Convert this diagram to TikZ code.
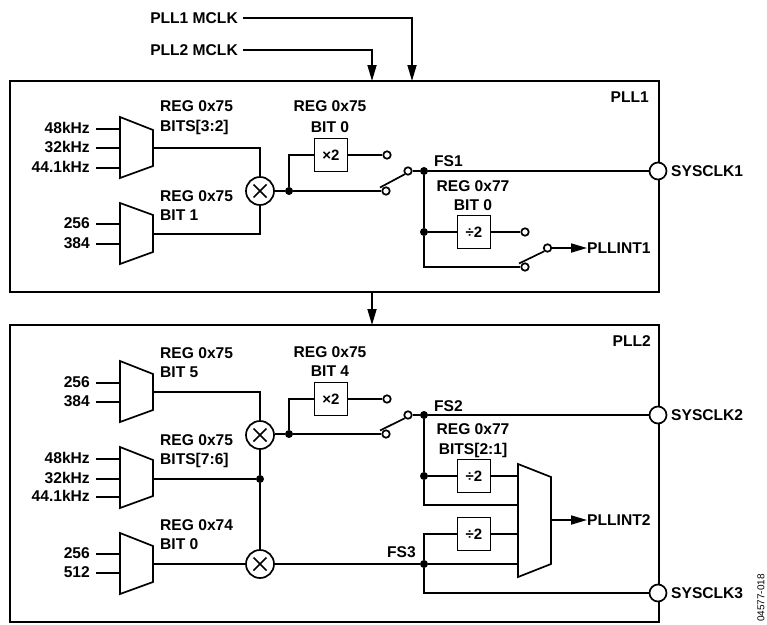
\documentclass[tikz,border=0pt]{standalone}
\usepackage{fontspec}
\setmainfont{Liberation Sans}
\usetikzlibrary{arrows.meta}
\tikzset{
  x=1pt,y=-1pt,
  wire/.style={line width=1.7pt,line join=miter},
  flow/.style={wire,-{Triangle[length=16pt,width=9pt]}},
  block/.style={draw,line width=2pt},
  muxshape/.style={draw,line width=1.7pt,fill=white,line join=miter},
  divbox/.style={draw,line width=1.7pt,fill=white,minimum width=33pt,minimum height=33pt,inner sep=0pt,font=\fontsize{15}{16}\bfseries},
  txt/.style={inner sep=0pt,font=\fontsize{15.6}{18}\bfseries,text height=11.2pt,text depth=0pt},
  inlab/.style={txt,anchor=east,text depth=2pt},
  mixer/.style={draw,circle,line width=1.7pt,fill=white,minimum size=28pt,inner sep=0pt},
  pad/.style={draw,circle,line width=1.7pt,fill=white,minimum size=17pt,inner sep=0pt},
  term/.style={draw,circle,line width=1.7pt,fill=white,minimum size=7.5pt,inner sep=0pt},
  junction/.style={circle,fill=black,minimum size=8pt,inner sep=0pt},
}
\newcommand{\muxdraw}[6]{%
  \draw[muxshape] (#1,#3) -- (#2,#5) -- (#2,#6) -- (#1,#4) -- cycle;}
\newcommand{\mixglyph}[1]{%
  \draw[line width=1.5pt] (#1.center) +(-6.5,-6.5) -- +(6.5,6.5) (#1.center) +(6.5,-6.5) -- +(-6.5,6.5);}
\begin{document}
\begin{tikzpicture}
\useasboundingbox (0,0) rectangle (767,624);
% blocks
\draw[block] (10,81) rectangle (659,292);
\draw[block] (10,325) rectangle (659,622);
\coordinate (pll1top1) at (372,81);
\coordinate (pll1top2) at (412,81);
\coordinate (pll1bot) at (372,292);
\coordinate (pll2top) at (372,325);
% top labels
\node[txt,anchor=east] (m1lab) at (238,18) {PLL1 MCLK};
\node[txt,anchor=east] (m2lab) at (238,50) {PLL2 MCLK};
\draw[flow] ([xshift=5pt]m1lab.east) -| (pll1top2);
\draw[flow] ([xshift=5pt]m2lab.east) -| (pll1top1);
\draw[flow] (pll1bot) -- (pll2top);
\node[txt,anchor=east] at (649,97) {PLL1};
\node[txt,anchor=east] at (651,341) {PLL2};

% ---------- PLL1 ----------
\muxdraw{120}{153}{117}{178}{130}{166}
\muxdraw{120}{153}{203}{264}{215}{252}
\node[inlab] (a1) at (90,129) {48kHz};
\node[inlab] (a2) at (90,148) {32kHz};
\node[inlab] (a3) at (90,168) {44.1kHz};
\node[inlab] (b1) at (90,224) {256};
\node[inlab] (b2) at (90,244) {384};
\coordinate (a1i) at (120,129); \coordinate (a2i) at (120,148); \coordinate (a3i) at (120,168);
\coordinate (b1i) at (120,224); \coordinate (b2i) at (120,244);
\coordinate (ao) at (153,148); \coordinate (bo) at (153,234);
\foreach \n in {a1,a2,a3,b1,b2} { \draw[wire] ([xshift=6pt]\n.east) -- (\n i); }
\node[mixer] (x1) at (260,191) {};
\mixglyph{x1}
\draw[wire] (ao) -| (x1.north);
\draw[wire] (bo) -| (x1.south);
\node[junction] (j1) at (289,191) {};
\node[divbox] (d1) at (331,155) {×2};
\node[term] (t1) at (387,155) {};
\node[term] (s1a) at (386,191) {};
\node[term] (s1b) at (408,171) {};
\draw[wire] (x1.east) -- (j1) -- (s1a.west);
\draw[wire] (j1) |- (d1.west);
\draw[wire] (d1.east) -- (t1.west);
\draw[wire] ([shift={(-6,-3.5)}]s1a.center) -- (s1b.south west);
\node[junction] (j2) at (424,171) {};
\node[pad] (p1) at (658,171) {};
\draw[wire] (s1b.east) -- (j2) -- (p1.west);
\node[txt,anchor=west] at (671,171) {SYSCLK1};
\node[txt,anchor=west] at (434,161) {FS1};
\node[txt] at (473,186) {REG 0x77};
\node[txt] at (473,205) {BIT 0};
\node[junction] (j3) at (424,232) {};
\node[divbox] (d2) at (474,232) {÷2};
\node[term] (t2) at (525,232) {};
\node[term] (s2a) at (525,267) {};
\node[term] (s2b) at (547.5,248) {};
\coordinate (c1) at (424,267);
\draw[wire] (j2) -- (j3) -- (c1) -- (s2a.west);
\draw[wire] (j3) -- (d2.west) (d2.east) -- (t2.west);
\draw[wire] ([shift={(-6,-3.5)}]s2a.center) -- (s2b.south west);
\node[txt,anchor=west] (pi1) at (587,248) {PLLINT1};
\draw[flow] (s2b.east) -- (pi1.west);
\node[txt,anchor=west] at (160,106) {REG 0x75};
\node[txt,anchor=west] at (160,126) {BITS[3:2]};
\node[txt,anchor=west] at (160,196) {REG 0x75};
\node[txt,anchor=west] at (160,215) {BIT 1};
\node[txt] at (330,106) {REG 0x75};
\node[txt] at (330,127) {BIT 0};

% ---------- PLL2 ----------
\muxdraw{120}{153}{361}{422}{374}{410}
\muxdraw{120}{153}{447}{508}{460}{496}
\muxdraw{120}{153}{533}{594}{546}{582}
\node[inlab] (e1) at (90,383) {256};
\node[inlab] (e2) at (90,402) {384};
\node[inlab] (f1) at (90,459) {48kHz};
\node[inlab] (f2) at (90,479) {32kHz};
\node[inlab] (f3) at (90,497) {44.1kHz};
\node[inlab] (g1) at (90,554) {256};
\node[inlab] (g2) at (90,573) {512};
\coordinate (e1i) at (120,383); \coordinate (e2i) at (120,402);
\coordinate (f1i) at (120,459); \coordinate (f2i) at (120,479); \coordinate (f3i) at (120,497);
\coordinate (g1i) at (120,554); \coordinate (g2i) at (120,573);
\foreach \n in {e1,e2,f1,f2,f3,g1,g2} { \draw[wire] ([xshift=6pt]\n.east) -- (\n i); }
\coordinate (eo) at (153,392); \coordinate (fo) at (153,479); \coordinate (go) at (153,564);
\node[mixer] (x2) at (260,435) {};
\node[mixer] (x3) at (260,564) {};
\mixglyph{x2}
\mixglyph{x3}
\node[junction] (j4) at (260,479) {};
\draw[wire] (eo) -| (x2.north);
\draw[wire] (fo) -- (j4);
\draw[wire] (x2.south) -- (j4) -- (x3.north);
\draw[wire] (go) -- (x3.west);
\node[junction] (j5) at (289,434) {};
\node[divbox] (d3) at (331,399) {×2};
\node[term] (t3) at (387,399) {};
\node[term] (s3a) at (386,434) {};
\node[term] (s3b) at (408,415) {};
\draw[wire] (x2.east |- j5) -- (j5) -- (s3a.west);
\draw[wire] (j5) |- (d3.west);
\draw[wire] (d3.east) -- (t3.west);
\draw[wire] ([shift={(-6,-3.5)}]s3a.center) -- (s3b.south west);
\node[junction] (j6) at (424,415) {};
\node[pad] (p2) at (658,415) {};
\draw[wire] (s3b.east) -- (j6) -- (p2.west);
\node[txt,anchor=west] at (671,415) {SYSCLK2};
\node[txt,anchor=west] at (434,406) {FS2};
\node[txt] at (473,429) {REG 0x77};
\node[txt] at (473,449) {BITS[2:1]};
\muxdraw{518}{551}{464}{577}{477}{564}
\node[junction] (j7) at (424,476) {};
\node[divbox] (d4) at (474,476) {÷2};
\node[divbox] (d5) at (474,534) {÷2};
\coordinate (h1) at (518,476); \coordinate (h2) at (518,505); \coordinate (h3) at (518,534); \coordinate (h4) at (518,564);
\coordinate (c2) at (424,505);
\coordinate (c3) at (424,534);
\draw[wire] (j6) -- (j7) -- (c2) -- (h2);
\draw[wire] (j7) -- (d4.west) (d4.east) -- (h1);
\draw[wire] (d5.east) -- (h3);
\node[junction] (j8) at (424,564) {};
\draw[wire] (x3.east) -- (j8) -- (h4);
\draw[wire] (d5.west) -- (c3) -- (j8);
\node[pad] (p3) at (658,593) {};
\draw[wire] (j8) |- (p3.west);
\node[txt,anchor=west] at (671,593) {SYSCLK3};
\node[txt,anchor=west] at (387,552) {FS3};
\coordinate (ho) at (551,520);
\node[txt,anchor=west] (pi2) at (587,520) {PLLINT2};
\draw[flow] (ho) -- (pi2.west);
\node[txt,anchor=west] at (160,353) {REG 0x75};
\node[txt,anchor=west] at (160,372) {BIT 5};
\node[txt] at (330,352) {REG 0x75};
\node[txt] at (330,371) {BIT 4};
\node[txt,anchor=west] at (160,440) {REG 0x75};
\node[txt,anchor=west] at (160,459) {BITS[7:6]};
\node[txt,anchor=west] at (160,525) {REG 0x74};
\node[txt,anchor=west] at (160,544) {BIT 0};
% side note
\node[rotate=90,anchor=west,inner sep=0pt,font=\fontsize{10}{11}\selectfont] at (761,622) {04577-018};
\end{tikzpicture}
\end{document}
